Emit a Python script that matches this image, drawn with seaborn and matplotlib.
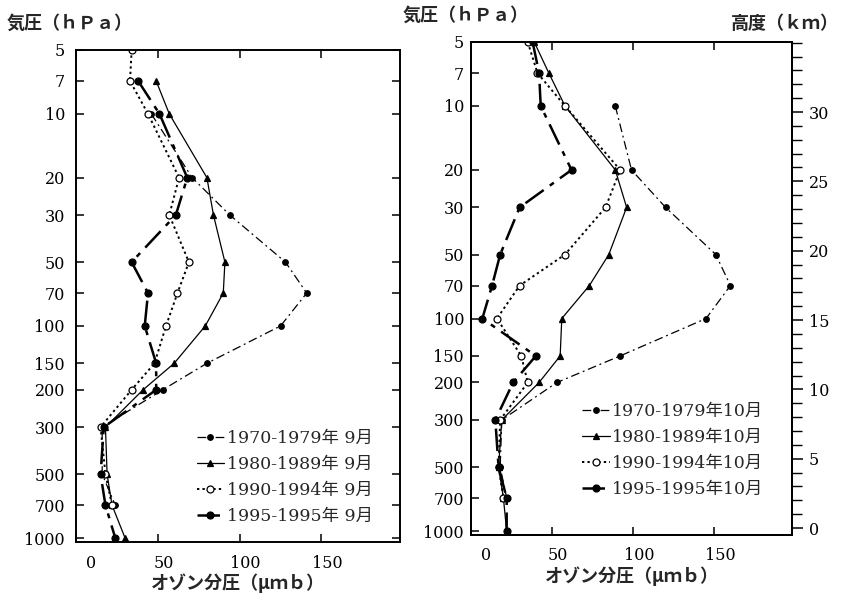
import numpy as np
import matplotlib
matplotlib.use('Agg')
import matplotlib.pyplot as plt
import matplotlib.transforms as mtransforms
from matplotlib.ticker import FixedLocator, FixedFormatter, NullLocator, MultipleLocator
import seaborn as sns

# pressure levels (hPa)
levels = [5, 7, 10, 20, 30, 50, 70, 100, 150, 200, 300, 500, 700, 1000]
nan = np.nan

# ozone partial pressure, September
sep_1970 = [nan, nan, 46, 71, 94, 128, 141, 125, 80, 53, 16, 16, 24, nan]
sep_1980 = [nan, 49, 57, 80, 84, 91, 90, 79, 60, 41, 18, 19, 22, 30]
sep_1990 = [34, 33, 44, 63, 57, 69, 62, 55, 48, 34, 15, 18, 22, nan]
sep_1995 = [nan, 38, 51, 68, 61, 34, 44, 42, 49, 49, 17, 15, 18, 24]

# ozone partial pressure, October
oct_1970 = [nan, nan, 89, 99, 120, 151, 160, 145, 92, 53, 19, 18, 22, nan]
oct_1980 = [39, 48, 58, 89, 96, 85, 73, 56, 55, 42, 19, 17, 20, 22]
oct_1990 = [35, 41, 58, 92, 83, 58, 30, 16, 31, 35, 18, 17, 20, nan]
oct_1995 = [38, 42, 43, 62, 30, 18, 13, 7, 40, 26, 15, 17, 22, 22]

periods = ['1970-1979', '1980-1989', '1990-1994', '1995-1995']
sep_labels = [p + '年 9月' for p in periods]
oct_labels = [p + '年10月' for p in periods]

xticks = [0, 50, 100, 150]
km_ticks = [0, 5, 10, 15, 20, 25, 30]

styles = [
    dict(linestyle=(0, (7, 3, 1.5, 3)), linewidth=0.9, marker='o', markersize=4, markerfacecolor='black'),
    dict(linestyle='-', linewidth=0.9, marker='^', markersize=4, markerfacecolor='black'),
    dict(linestyle=(0, (1.2, 1.6)), linewidth=1.4, marker='o', markersize=5, markerfacecolor='white'),
    dict(linestyle=(0, (9, 3, 2, 3)), linewidth=1.8, marker='o', markersize=5, markerfacecolor='black'),
]

sns.set_theme(style='ticks')
plt.rcParams['font.family'] = ['DejaVu Serif', 'Noto Sans CJK JP']
jp = ['Noto Sans CJK JP', 'DejaVu Serif']

fig = plt.figure(figsize=(8.42, 6), dpi=100)
ax1 = fig.add_axes([76 / 842, 1 - 542 / 600, 324 / 842, 492 / 600])
ax2 = fig.add_axes([471 / 842, 1 - 535 / 600, 321 / 842, 493 / 600])


def draw(ax, series, labels):
    for vals, lab, st in zip(series, labels, styles):
        v = np.array(vals, dtype=float)
        p = np.array(levels, dtype=float)
        ok = ~np.isnan(v)
        sns.lineplot(x=v[ok], y=p[ok], ax=ax, orient='y', sort=False, estimator=None,
                     color='black', markeredgecolor='black', markeredgewidth=0.9,
                     label=lab, **st)
    ax.set_yscale('log')
    ax.set_ylim(1044, 5)
    ax.set_xlim(0, 198)
    ax.yaxis.set_major_locator(FixedLocator(levels))
    ax.yaxis.set_major_formatter(FixedFormatter([str(l) for l in levels]))
    ax.yaxis.set_minor_locator(NullLocator())
    ax.set_xticks(xticks)
    ax.set_xticklabels([str(t) for t in xticks])
    ax.tick_params(axis='both', which='major', direction='in', length=6, width=1.1,
                   top=True, right=True, labelsize=11.5, colors='black')
    ax.tick_params(axis='x', pad=9)
    for s in ax.spines.values():
        s.set_linewidth(1.4)
        s.set_color('black')
    ax.set_xlabel('オゾン分圧（μｍｂ）', family=jp, fontsize=13, fontweight='bold', labelpad=1)
    ax.set_ylabel('')
    # tick labels in the print sit a little right of the ticks
    for t, lab in zip(xticks, ax.get_xticklabels()):
        dx = 15 if t == 0 else 6
        lab.set_transform(lab.get_transform() +
                          mtransforms.ScaledTranslation(dx / 100, 0, fig.dpi_scale_trans))


draw(ax1, [sep_1970, sep_1980, sep_1990, sep_1995], sep_labels)
draw(ax2, [oct_1970, oct_1980, oct_1990, oct_1995], oct_labels)
ax1.tick_params(axis='y', pad=8)
ax2.tick_params(axis='y', pad=5)

leg_kw = dict(loc='upper left', frameon=False, fontsize=12.5, handlelength=1.6,
              handletextpad=0.15, labelspacing=0.52, borderpad=0, borderaxespad=0)
ax1.legend(bbox_to_anchor=(0.372, 0.228), **leg_kw)
ax2.legend(bbox_to_anchor=(0.345, 0.268), **leg_kw)


# height scale (km) on the right of the October panel, linear in log-pressure
def p2km(p):
    return 15.325 * (2.986 - np.log10(p))


ax3 = ax2.twinx()
ax3.set_yscale('linear')
ax3.set_ylim(p2km(1044), p2km(5))
ax3.set_yticks(km_ticks)
ax3.yaxis.set_minor_locator(MultipleLocator(1))
ax3.tick_params(axis='y', which='major', direction='out', length=8, width=1.1,
                labelsize=11.5, pad=4, colors='black', left=False, right=True)
ax3.tick_params(axis='y', which='minor', direction='out', length=7, width=1.0,
                colors='black', left=False, right=True)
ax3.grid(False)
for s in ax3.spines.values():
    s.set_linewidth(1.4)
    s.set_color('black')

fig.text(7 / 842, 1 - 23 / 600, '気圧（ｈＰａ）', family=jp, fontsize=13, fontweight='bold', va='center', ha='left')
fig.text(403 / 842, 1 - 15 / 600, '気圧（ｈＰａ）', family=jp, fontsize=13, fontweight='bold', va='center', ha='left')
fig.text(839 / 842, 1 - 23 / 600, '高度（ｋｍ）', family=jp, fontsize=13, fontweight='bold', va='center', ha='right')

fig.savefig('out.png', dpi=100, facecolor='white')
